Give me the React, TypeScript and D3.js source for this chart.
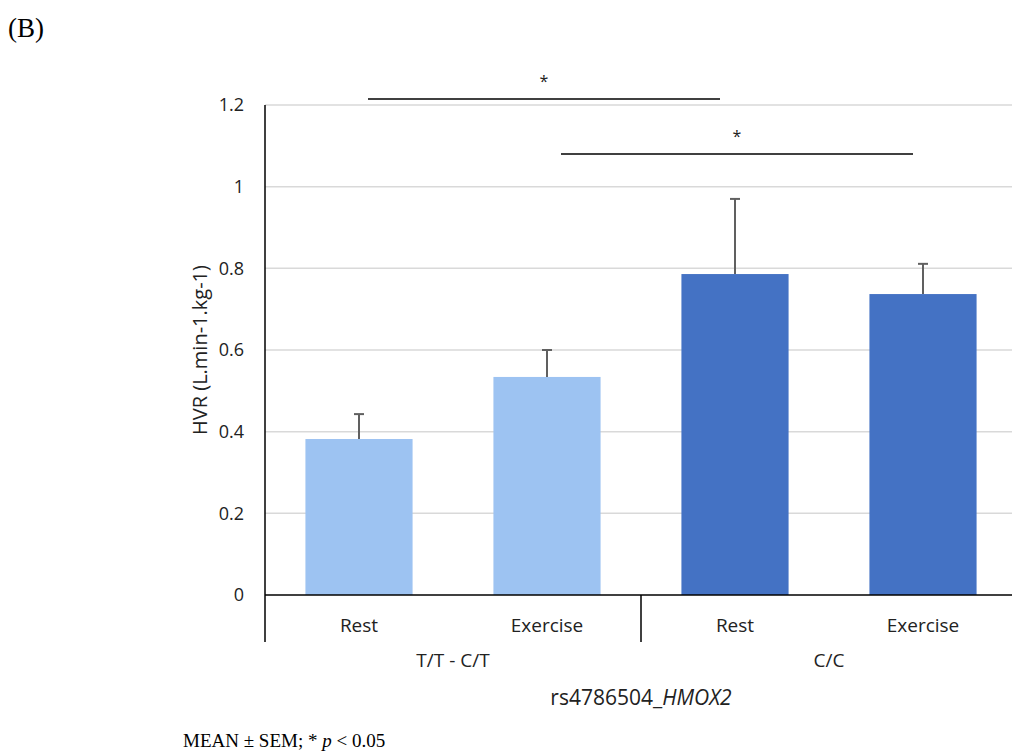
import React from "react";
import * as d3 from "d3";

const categories = ["T/T - C/T|Rest", "T/T - C/T|Exercise", "C/C|Rest", "C/C|Exercise"];
const conditionLabels = ["Rest", "Exercise", "Rest", "Exercise"];
const groups = ["T/T - C/T", "C/C"];
const means = [0.382, 0.534, 0.786, 0.737];
const sems = [0.061, 0.066, 0.184, 0.074];
const barColors = ["#9DC3F2", "#9DC3F2", "#4472C4", "#4472C4"];
const yTicks = [0, 0.2, 0.4, 0.6, 0.8, 1, 1.2];
const sigPairs = [[0, 2], [1, 3]];

export default function App() {
  const W = 1012, H = 753;
  const x = d3.scaleBand().domain(categories).range([265, 1017]).paddingInner(0.43).paddingOuter(0.215);
  const y = d3.scaleLinear().domain([0, 1.2]).range([595, 105]);
  const font = "Open Sans, sans-serif";
  const cx = (i: number) => (x(categories[i]) as number) + x.bandwidth() / 2;
  const step = x.step();
  const left = 265;
  return (
    <svg width={W} height={H} style={{ position: "absolute", left: 0, top: 0, background: "#fff" }}>
      <text x={8} y={37} fontFamily="Liberation Serif, serif" fontSize={27} fill="#000">(B)</text>
      {yTicks.map((t) => (
        <g key={t}>
          {t > 0 && <line x1={left} x2={W} y1={y(t)} y2={y(t)} stroke="#d9d9d9" strokeWidth={1.5} />}
          <text x={244} y={y(t)} dy="0.35em" textAnchor="end" fontFamily={font} fontSize={18} fill="#222">{String(t)}</text>
        </g>
      ))}
      {means.map((m, i) => (
        <g key={i}>
          <rect x={x(categories[i])} y={y(m)} width={x.bandwidth()} height={y(0) - y(m)} fill={barColors[i]} />
          <line x1={cx(i)} x2={cx(i)} y1={y(m)} y2={y(m + sems[i])} stroke="#606060" strokeWidth={2} />
          <line x1={cx(i) - 5} x2={cx(i) + 5} y1={y(m + sems[i])} y2={y(m + sems[i])} stroke="#606060" strokeWidth={2} />
        </g>
      ))}
      <line x1={left} x2={W} y1={y(0)} y2={y(0)} stroke="#000" strokeWidth={1.5} />
      <line x1={left} x2={left} y1={y(1.2)} y2={642} stroke="#000" strokeWidth={1.5} />
      <line x1={left + 2 * step} x2={left + 2 * step} y1={y(0)} y2={642} stroke="#000" strokeWidth={1.5} />
      {conditionLabels.map((c, i) => (
        <text key={i} x={cx(i)} y={632} textAnchor="middle" fontFamily={font} fontSize={19} fill="#222">{c}</text>
      ))}
      {groups.map((g, i) => (
        <text key={g} x={left + step * (2 * i + 1)} y={667} textAnchor="middle" fontFamily={font} fontSize={19} fill="#222">{g}</text>
      ))}
      <text x={left + 2 * step} y={705} textAnchor="middle" fontFamily={font} fontSize={21} fill="#222">
        rs4786504_<tspan fontStyle="italic">HMOX2</tspan>
      </text>
      <text transform={`translate(200, ${y(0.6)}) rotate(-90)`} textAnchor="middle" dy="0.35em" fontFamily={font} fontSize={20} fill="#222">HVR (L.min-1.kg-1)</text>
      {sigPairs.map(([a, b], k) => {
        const yy = k === 0 ? 99 : 154;
        const x1 = k === 0 ? cx(a) + 9 : cx(a) + 14;
        const x2 = k === 0 ? cx(b) - 15 : cx(b) - 10;
        return (
          <g key={k}>
            <line x1={x1} x2={x2} y1={yy} y2={yy} stroke="#000" strokeWidth={1.5} />
            <text x={(x1 + x2) / 2} y={yy - 12} textAnchor="middle" fontFamily={font} fontSize={16} fill="#222">*</text>
          </g>
        );
      })}
      <text x={183} y={747} fontFamily="Liberation Serif, serif" fontSize={19} fill="#000">
        MEAN ± SEM; * <tspan fontStyle="italic">p</tspan> &lt; 0.05
      </text>
    </svg>
  );
}
